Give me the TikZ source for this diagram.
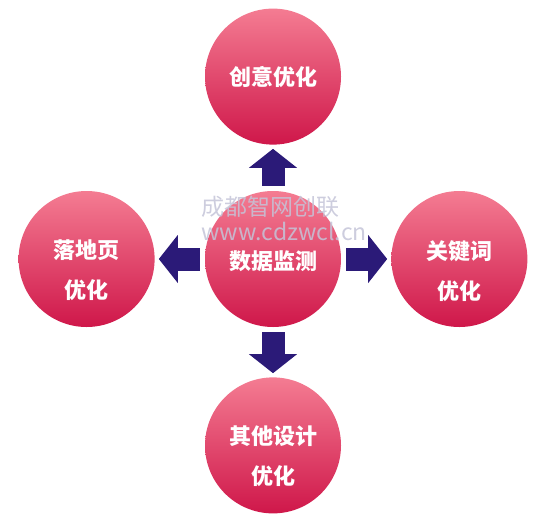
\documentclass[tikz,border=0pt]{standalone}
\usepackage{fontspec}
\newfontfamily\cjk{Noto Sans CJK SC}
\usepackage{xcolor}
\usetikzlibrary{
    arrows.meta,
    positioning
}

\definecolor{ballTop}{HTML}{F47C92}
\definecolor{ballBottom}{HTML}{CF174A}
\definecolor{arrowNavy}{HTML}{2B1A78}
\definecolor{markGray}{HTML}{C4C4D8}

\begin{document}
\begin{tikzpicture}[
        x=1pt, y=-1pt,
        ball/.style={
            circle,
            inner sep=0pt,
            minimum size=136pt,
            top color=ballTop,
            bottom color=ballBottom
        },
        caption/.style={
            align=center,
            text=white,
            font={\cjk\bfseries\fontsize{22pt}{40pt}\selectfont}
        },
        flow/.style={
            arrowNavy,
            line width=23pt,
            -{Triangle[width=47pt,length=19pt]},
            shorten <=5pt,
            shorten >=4pt
        }
    ]

    \useasboundingbox (0,0) rectangle (546,517);

    \node[ball] (hub) at (273,259) {};

    \node[ball, above=46pt of hub] (idea) {};

    \node[ball, left=50pt of hub] (landing) {};

    \node[ball, right=50pt of hub] (keyword) {};

    \node[ball, below=50pt of hub] (design) {};

    \draw[flow] (hub) -- (idea);
    \draw[flow] (hub) -- (landing);
    \draw[flow] (hub) -- (keyword);
    \draw[flow] (hub) -- (design);

    \node[caption] (hubText) at ([yshift=-2pt]hub.center) {数据监测};
    \node[caption] (ideaText) at (idea.center) {创意优化};
    \node[caption] (landingText) at ([yshift=-11pt]landing.center)
        {落地页\\优化};
    \node[caption] (keywordText) at ([yshift=-12pt]keyword.center)
        {关键词\\优化};
    \node[caption] (designText) at ([yshift=-11pt]design.center)
        {其他设计\\优化};

    \node[align=left, anchor=west, text=markGray, text opacity=0.85,
        font={\cjk\fontsize{23pt}{25pt}\selectfont}] (mark) at (198,218)
        {成都智网创联\\www.cdzwcl.cn};

    \end{tikzpicture}
\end{document}
